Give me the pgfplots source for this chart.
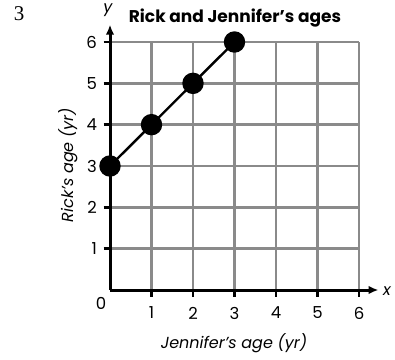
\documentclass[border=0pt]{standalone}
\usepackage{pgfplots}
\pgfplotsset{compat=1.18}
\usepackage{fontspec}
\setmainfont{Poppins}
\newfontfamily\serifnum{Liberation Serif}
\usetikzlibrary{arrows.meta}
\definecolor{gridgray}{HTML}{8A8A8A}
\begin{document}
\begin{tikzpicture}[x=1pt,y=1pt]
\path (0,0) rectangle (395,359);
\begin{axis}[
  at={(110pt,69pt)}, anchor=south west,
  scale only axis, width=249pt, height=248pt,
  xmin=0, xmax=6, ymin=0, ymax=6,
  axis lines=left, axis line style={draw=none},
  clip=false,
  xtick={1,2,3,4,5,6}, ytick={1,2,3,4,5,6},
  grid=major,
  major grid style={gridgray, line width=2.6pt},
  tick align=outside, major tick length=6.5pt,
  tick style={black, line width=2.4pt},
  /pgf/number format/assume math mode=true,
  ticklabel style={font=\fontsize{16.5}{16.5}\selectfont},
  xticklabel style={yshift=-7pt},
  yticklabel style={xshift=-3pt},
]
\draw[line width=3pt, -{Latex[length=10pt,width=8.5pt]}] (axis cs:0,0) -- (axis cs:6.47,0);
\draw[line width=3pt, -{Latex[length=10pt,width=8.5pt]}] (axis cs:0,0) -- (axis cs:0,6.42);
\addplot[black, line width=2.4pt, mark=*, mark size=9.5pt] coordinates {(0,3) (1,4) (2,5) (3,6)};
\end{axis}
\node[font=\fontsize{16.5}{16.5}\selectfont] at (101,56) {0};
\node[font=\bfseries\fontsize{17}{17}\selectfont] at (235,341) {Rick and Jennifer’s ages};
\node[font=\itshape\fontsize{16}{16}\selectfont] at (108,349) {y};
\node[font=\itshape\fontsize{16}{16}\selectfont] at (387,68) {x};
\node[font=\serifnum\fontsize{21}{21}\selectfont] at (19,345) {3};
\node[font=\itshape\fontsize{16}{16}\selectfont, rotate=90] at (68,194) {Rick’s age (yr)};
\node[font=\itshape\fontsize{16}{16}\selectfont] at (234,16) {Jennifer’s age (yr)};
\end{tikzpicture}
\end{document}
